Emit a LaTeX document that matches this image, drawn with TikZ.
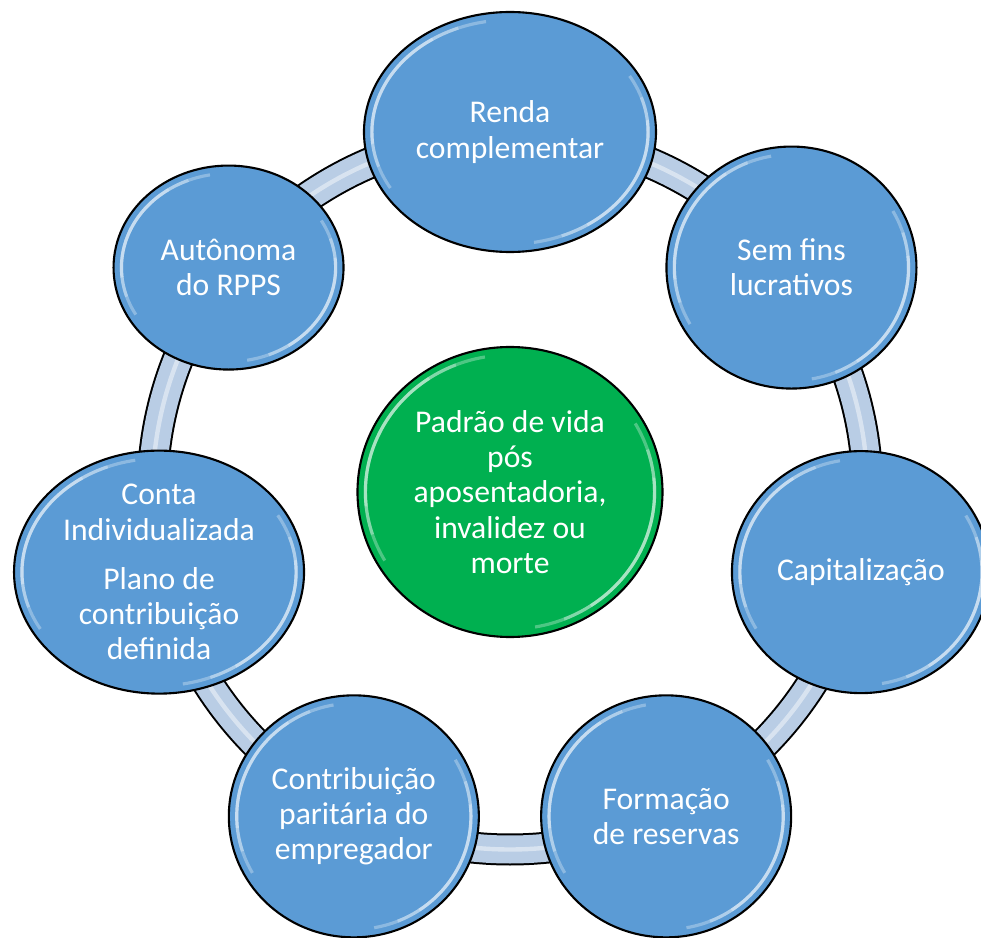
\documentclass[tikz,border=0pt]{standalone}
\usepackage{fontspec}
\setmainfont{Carlito}
\usetikzlibrary{shapes.geometric, calc}

\definecolor{bubbleblue}{HTML}{5B9BD5}
\definecolor{coregreen}{HTML}{00B050}
\definecolor{ringblue}{HTML}{B9CDE5}

\begin{document}
\begin{tikzpicture}
	[gloss/.style={path picture={
	   \foreach \d in {0,12,24}
	   \draw[white, opacity=.3, line width=1.8pt]
	     let \p1=($(path picture bounding box.north east)-(path picture bounding box.center)$) in
	     (path picture bounding box.center) ++(100+\d:{\x1-4.5pt} and {\y1-4.5pt})
	       arc[start angle=100+\d, end angle=210-\d, x radius={\x1-4.5pt}, y radius={\y1-4.5pt}]
	     (path picture bounding box.center) ++(-80+\d:{\x1-4.5pt} and {\y1-4.5pt})
	       arc[start angle=-80+\d, end angle=30-\d, x radius={\x1-4.5pt}, y radius={\y1-4.5pt}];}},
	 bubble/.style={ellipse, draw=black, line width=1.2pt, fill=bubbleblue, text=white,
	   align=center, inner sep=0pt, font=\fontsize{18}{20}\selectfont, gloss},
	 core/.style={bubble, fill=coregreen},
	 ring/.style={draw=black, line width=0.64cm,
	   postaction={draw=ringblue, line width=0.56cm},
	   postaction={draw=white, opacity=.45, line width=2.5pt}}]
   \useasboundingbox (-10.2,-8.92) rectangle (9.42,9.84);
   \node[core, minimum width=6.1cm, minimum height=5.8cm] (core) at (0,0)
     {Padrão de vida\\pós\\aposentadoria,\\invalidez ou\\morte};
   \path[ring] (core.center) circle[radius=7.15];
   \node[bubble, minimum width=5.84cm, minimum height=4.8cm] (renda) at (90:7.2)
     {Renda\\complementar};
   \node[bubble, minimum width=5cm, minimum height=4.84cm] (semfins) at (38.57:7.2)
     {Sem fins\\lucrativos};
   \node[bubble, minimum width=5.16cm, minimum height=4.84cm] (capital) at (-12.86:7.2)
     {Capitalização};
   \node[bubble, minimum width=5cm, minimum height=4.84cm] (reservas) at (-64.29:7.2)
     {Formação\\de reservas};
   \node[bubble, minimum width=5cm, minimum height=4.84cm] (paritaria) at (-115.71:7.2)
     {Contribuição\\paritária do\\empregador};
   \node[bubble, inner ysep=-12pt, minimum width=5.8cm, minimum height=4.86cm] (conta) at (192.86:7.2)
     {Conta\\Individualizada\\[8pt]Plano de\\contribuição\\definida};
   \node[bubble, minimum width=4.6cm, minimum height=4.08cm] (autonoma) at (141.43:7.2)
     {Autônoma\\do RPPS};
\end{tikzpicture}
\end{document}
